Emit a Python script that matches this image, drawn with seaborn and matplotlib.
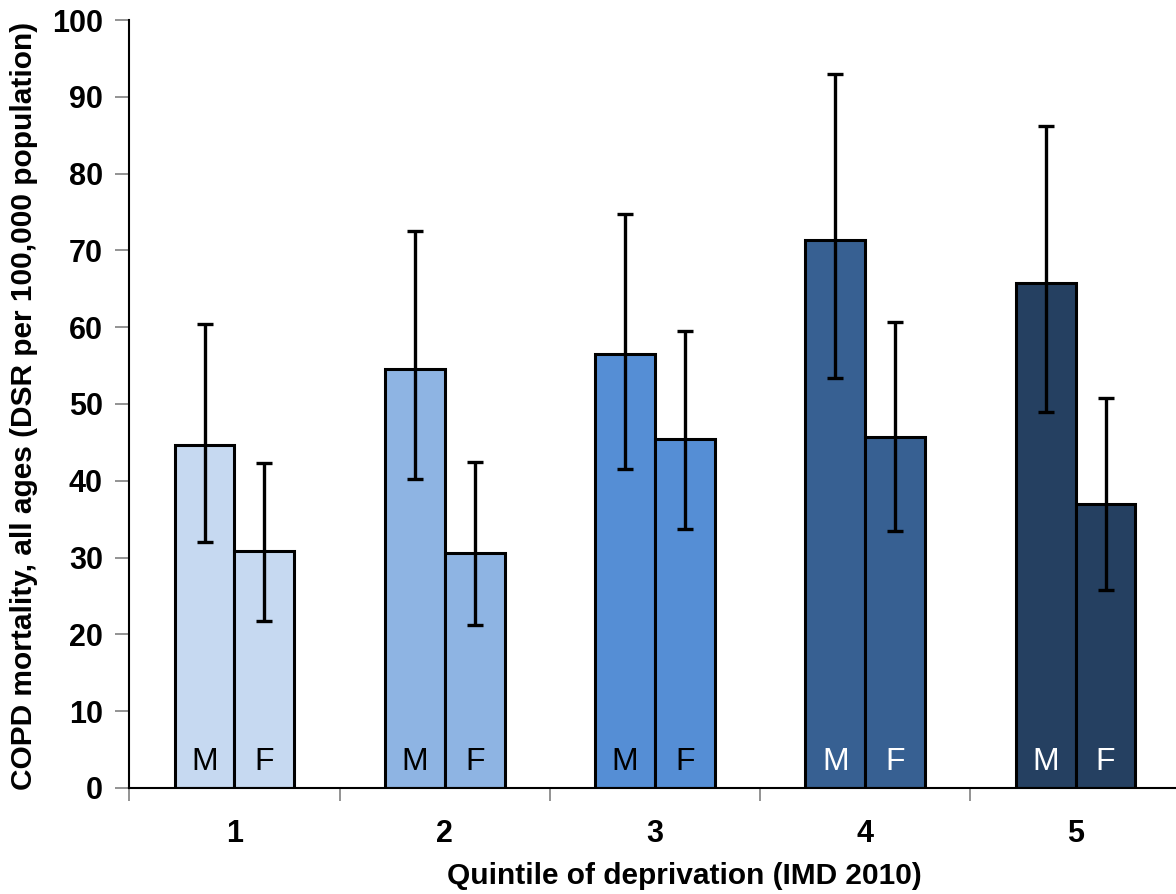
import pandas as pd
import matplotlib
matplotlib.use("Agg")
import matplotlib.pyplot as plt
import seaborn as sns
from matplotlib.ticker import FixedLocator

# Data
quintiles = ["1", "2", "3", "4", "5"]
sexes = ["M", "F"]
male_rate = [44.6, 54.6, 56.5, 71.3, 65.8]
male_lo = [32.0, 40.2, 41.6, 53.4, 49.0]
male_hi = [60.4, 72.5, 74.8, 93.0, 86.2]
female_rate = [30.9, 30.6, 45.4, 45.7, 37.0]
female_lo = [21.7, 21.2, 33.7, 33.4, 25.8]
female_hi = [42.3, 42.4, 59.5, 60.7, 50.8]
bar_colors = ["#C6D9F1", "#8EB4E3", "#558ED5", "#376092", "#254061"]
text_colors = ["black", "black", "black", "white", "white"]

df = pd.DataFrame({
    "Quintile": quintiles * 2,
    "Sex": ["M"] * 5 + ["F"] * 5,
    "Rate": male_rate + female_rate,
    "Lo": male_lo + female_lo,
    "Hi": male_hi + female_hi,
})

sns.set_theme(style="white")
plt.rcParams['font.family'] = ['Liberation Sans', 'DejaVu Sans']
plt.rcParams['text.color'] = 'black'
plt.rcParams['axes.labelcolor'] = 'black'
plt.rcParams['xtick.labelcolor'] = 'black'
plt.rcParams['ytick.labelcolor'] = 'black'

fig = plt.figure(figsize=(11.76, 8.94), dpi=100)
ax = fig.add_axes([0.110, 0.1186, 0.894, 0.859])

sns.barplot(data=df, x="Quintile", y="Rate", hue="Sex", hue_order=sexes,
            order=quintiles, width=0.57, edgecolor="black", linewidth=2.2,
            legend=False, ax=ax)

# recolour bars by quintile, add error bars and M/F labels
for cont, sex in zip(ax.containers, sexes):
    sub = df[df["Sex"] == sex].set_index("Quintile").loc[quintiles]
    for i, patch in enumerate(cont.patches):
        patch.set_facecolor(bar_colors[i])
        patch.set_alpha(1)
        cx = patch.get_x() + patch.get_width() / 2
        val = sub["Rate"].iloc[i]
        ax.errorbar(cx, val,
                    yerr=[[val - sub["Lo"].iloc[i]], [sub["Hi"].iloc[i] - val]],
                    fmt="none", ecolor="black", elinewidth=2.4, capsize=6,
                    capthick=2.4, zorder=5)
        ax.text(cx, 2.3, sex, ha="center", va="baseline", fontsize=23,
                color=text_colors[i], zorder=6)

ax.set_xlim(-0.5, 4.5)
ax.set_ylim(0, 100)
ax.set_yticks(range(0, 101, 10))
ax.tick_params(axis="y", which="major", direction="out", length=10, width=1.2,
               color="#808080", pad=9, left=True, labelsize=22)
for lab in ax.get_yticklabels():
    lab.set_fontweight("bold")

ax.xaxis.set_minor_locator(FixedLocator([-0.5, 0.5, 1.5, 2.5, 3.5, 4.5]))
ax.tick_params(axis="x", which="major", length=0, pad=22, labelsize=22)
ax.tick_params(axis="x", which="minor", direction="out", length=9, width=1.2,
               color="#808080", bottom=True)
for lab in ax.get_xticklabels():
    lab.set_fontweight("bold")

for side in ["top", "right"]:
    ax.spines[side].set_visible(False)
for side in ["left", "bottom"]:
    ax.spines[side].set_color("black")
    ax.spines[side].set_linewidth(1.5)

ax.set_xlabel("Quintile of deprivation (IMD 2010)", fontsize=21.5,
              fontweight="bold")
ax.set_ylabel("COPD mortality, all ages (DSR per 100,000 population)",
              fontsize=21.5, fontweight="bold")
ax.xaxis.set_label_coords(0.528, -0.097)
ax.yaxis.set_label_coords(-0.087, 0.497)

fig.savefig("out.png", dpi=100)
